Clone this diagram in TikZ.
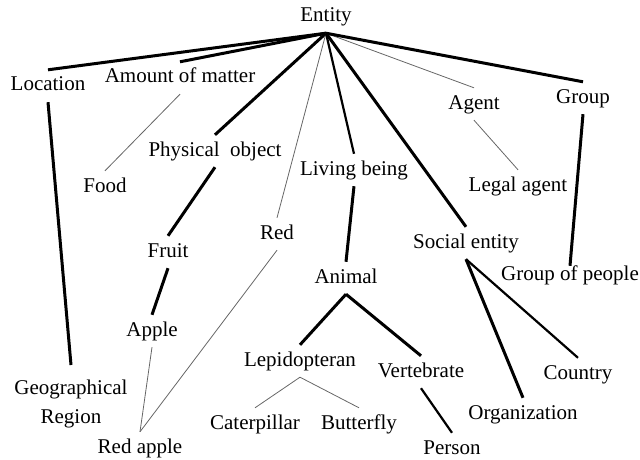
\documentclass[tikz,border=0pt]{standalone}
\usepackage{fontspec}
\setmainfont{Liberation Serif}
\newfontfamily\labelfont{Liberation Serif}
\begin{document}
\begin{tikzpicture}[x=1pt,y=-1pt,
  word/.style={font=\labelfont\fontsize{21}{25}\selectfont, inner sep=0pt},
  lbl/.style={word, text height=21pt, text depth=11pt, anchor=base},
  heavy/.style={line width=3pt},
  medium/.style={line width=2.2pt},
  light/.style={line width=0.8pt, draw=black!60}]
\useasboundingbox (0,0) rectangle (640,460);

% concepts, placed at their baselines
\node[lbl] (entity)   at (326,22)  {Entity};
\node[lbl] (location) at (48,91)   {Location};
\node[lbl] (amount)   at (180,83)  {Amount of matter};
\node[lbl] (food)     at (105,192) {Food};
\node[lbl] (physical) at (215,156) {Physical\ \ object};
\node[lbl] (fruit)    at (168,257) {Fruit};
\node[lbl] (apple)    at (152,336) {Apple};
\node[lbl] (red)      at (277,239) {Red};
\node[lbl] (redapple) at (140,453) {Red apple};
\node[word, align=center, font=\labelfont\fontsize{21}{29}\selectfont,
      inner ysep=15pt, anchor=north] (geo) at (71,365) {Geographical\\Region};
\node[lbl] (living)   at (354,175) {Living being};
\node[lbl] (animal)   at (346,283) {Animal};
\node[lbl] (lepido)   at (300,366) {Lepidopteran};
\node[lbl] (vert)     at (421,377) {Vertebrate};
\node[lbl] (cater)    at (255,429) {Caterpillar};
\node[lbl] (butter)   at (359,429) {Butterfly};
\node[lbl] (person)   at (452,454) {Person};
\node[lbl] (social)   at (466,248) {Social entity};
\node[lbl, text height=14pt] (people) at (570,280) {Group of people};
\node[lbl] (country)  at (578,379) {Country};
\node[lbl] (org)      at (523,419) {Organization};
\node[lbl] (agent)    at (474,109) {Agent};
\node[lbl] (group)    at (583,103) {Group};
\node[lbl] (legal)    at (518,191) {Legal agent};

% links from the root
\draw[heavy]  (entity.south) -- (location.north);
\draw[heavy]  (entity.south) -- (amount.north);
\draw[heavy]  (entity.south) -- (physical.north);
\draw[light]  (entity.south) -- (red.north);
\draw[medium] (entity.south) -- (living.north);
\draw[heavy]  (entity.south) -- (social.north);
\draw[light]  (entity.south) -- (agent.north);
\draw[heavy]  (entity.south) -- (group.north);

% lower links
\draw[light]  (amount.south) -- (food.north);
\draw[heavy]  (location.south) -- (geo.north);
\draw[heavy]  (physical.south) -- (fruit.north);
\draw[heavy]  (fruit.south) -- (apple.north);
\draw[light]  (apple.south) -- (redapple.north);
\draw[light]  (red.south) -- (redapple.north);
\draw[heavy]  (living.south) -- (animal.north);
\draw[heavy]  (animal.south) -- (lepido.north);
\draw[heavy]  (animal.south) -- (vert.north);
\draw[light]  (lepido.south) -- (cater.north);
\draw[light]  (lepido.south) -- (butter.north);
\draw[medium] (vert.south) -- (person.north);
\draw[heavy]  (social.south) -- (org.north);
\draw[medium] (social.south) -- (country.north);
\draw[light]  (agent.south) -- (legal.north);
\draw[heavy]  (group.south) -- (people.north);
\end{tikzpicture}
\end{document}
